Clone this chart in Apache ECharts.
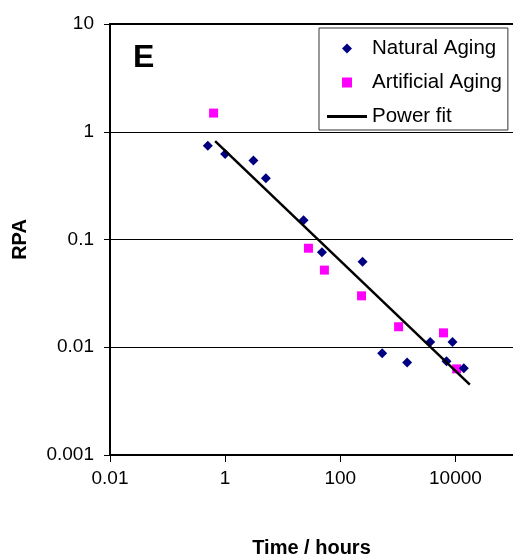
<!DOCTYPE html>
<html>
<head>
<meta charset="utf-8">
<script src="https://cdn.jsdelivr.net/npm/echarts@6/dist/echarts.min.js"></script>
<style>html,body{margin:0;padding:0;background:#fff}#c{width:513px;height:557px}</style>
</head>
<body>
<div id="c"></div>
<script>
const naturalX = [0.5, 1.0, 3.1, 5.1, 23, 48, 244, 535, 1450, 3640, 7000, 8900, 14000];
const naturalY = [0.74, 0.62, 0.54, 0.37, 0.151, 0.076, 0.062, 0.0088, 0.0072, 0.0112, 0.0074, 0.0112, 0.0064];
const artificialX = [0.63, 28, 53, 234, 1030, 6200, 10500];
const artificialY = [1.49, 0.083, 0.052, 0.030, 0.0155, 0.0136, 0.0063];
const fitX = [0.67, 17800];
const fitY = [0.82, 0.0045];
const xTickLabels = ['0.01', '1', '100', '10000'];
const yTickLabels = ['0.001', '0.01', '0.1', '1', '10'];
const seriesNames = ['Natural Aging', 'Artificial Aging', 'Power fit'];

const FONT = 'Liberation Sans, Arial, sans-serif';
const pairs = (xs, ys) => xs.map((x, i) => [x, ys[i]]);

const chart = echarts.init(document.getElementById('c'), null, {renderer: 'canvas'});
chart.setOption({
  animation: false,
  backgroundColor: '#fff',
  title: {
    text: 'E', left: 128, top: 37,
    textStyle: {fontSize: 32, fontWeight: 'bold', color: '#000', fontFamily: FONT}
  },
  grid: {left: 110, top: 24, right: 0, bottom: 102, containLabel: false, outerBoundsMode: 'none'},
  legend: {
    data: [
      {name: seriesNames[0], icon: 'path://M0,5L5,0L10,5L5,10Z', itemStyle: {color: '#000080', opacity: 1, borderWidth: 0}},
      {name: seriesNames[1], icon: 'path://M0,0L10,0L10,10L0,10Z', itemStyle: {color: '#FF00FF', opacity: 1, borderWidth: 0}},
      {name: seriesNames[2], icon: 'path://M0,0L40,0L40,3L0,3Z', itemStyle: {color: '#000', borderWidth: 0}}
    ],
    orient: 'vertical',
    left: 319, top: 28,
    padding: [10, 6, 3, 8],
    itemGap: 13,
    itemWidth: 40, itemHeight: 10,
    symbolKeepAspect: true,
    borderColor: '#333', borderWidth: 1,
    backgroundColor: '#fff',
    textStyle: {fontSize: 20.5, color: '#000', fontFamily: FONT},
    selectedMode: false
  },
  xAxis: [{
    type: 'log', logBase: 10, min: 0.01, max: 100000, interval: 2,
    name: 'Time / hours', nameLocation: 'middle', nameGap: 83,
    nameTextStyle: {fontSize: 20, fontWeight: 'bold', color: '#000', fontFamily: FONT},
    axisLine: {show: true, lineStyle: {color: '#000', width: 2}},
    axisTick: {show: true, length: 7, lineStyle: {color: '#000', width: 1}},
    axisLabel: {
      fontSize: 19, color: '#000', fontFamily: FONT, margin: 14,
      showMaxLabel: false, hideOverlap: false,
      formatter: v => { const s = xTickLabels.find(t => Math.abs(Number(t) - v) / v < 1e-6); return s || ''; }
    },
    splitLine: {show: false}
  }, {
    type: 'log', logBase: 10, min: 0.01, max: 100000, position: 'top',
    axisLine: {show: true, lineStyle: {color: '#000', width: 2}},
    axisTick: {show: false}, axisLabel: {show: false}, splitLine: {show: false}
  }],
  yAxis: {
    type: 'log', logBase: 10, min: 0.001, max: 10, interval: 1,
    name: 'RPA', nameLocation: 'middle', nameGap: 80,
    nameTextStyle: {fontSize: 20, fontWeight: 'bold', color: '#000', fontFamily: FONT},
    axisLine: {show: true, lineStyle: {color: '#000', width: 2}},
    axisTick: {show: true, length: 6, lineStyle: {color: '#000', width: 1}},
    axisLabel: {
      fontSize: 19, color: '#000', fontFamily: FONT, margin: 16, hideOverlap: false,
      formatter: v => { const s = yTickLabels.find(t => Math.abs(Number(t) - v) / v < 1e-6); return s || ''; }
    },
    splitLine: {show: true, lineStyle: {color: '#000', width: 1}}
  },
  series: [{
    name: seriesNames[0], type: 'scatter', symbol: 'diamond', symbolSize: 10,
    itemStyle: {color: '#000080', opacity: 1}, data: pairs(naturalX, naturalY), z: 3
  }, {
    name: seriesNames[1], type: 'scatter', symbol: 'rect', symbolSize: 9,
    itemStyle: {color: '#FF00FF', opacity: 1}, data: pairs(artificialX, artificialY), z: 2
  }, {
    name: seriesNames[2], type: 'line', symbol: 'none', showSymbol: false,
    lineStyle: {color: '#000', width: 2.5}, itemStyle: {color: '#000'},
    data: pairs(fitX, fitY), z: 4
  }]
});
</script>
</body>
</html>
